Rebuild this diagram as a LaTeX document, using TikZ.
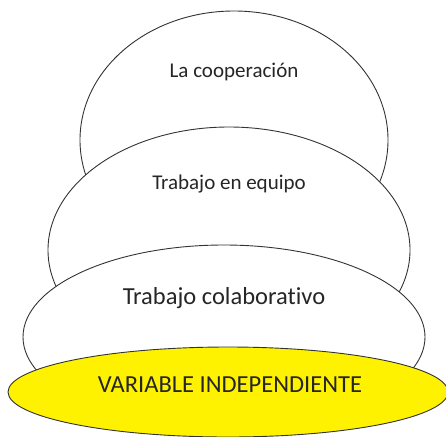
\documentclass[tikz,border=0pt]{standalone}
\usepackage{fontspec}
\setmainfont{Carlito}[Ligatures={NoCommon}]
\usetikzlibrary{positioning}

\begin{document}
\begin{tikzpicture}[x=1pt,y=-1pt,
  layer/.style={draw=black!80, line width=0.9pt, fill=white},
  base/.style={layer, fill=yellow},
  caption/.style={text=black!85, inner sep=0pt},
  ]
  \useasboundingbox (0,0) rectangle (446,436);
  \coordinate (C1) at (234,140);
  \coordinate (C2) at (229,250);
  \coordinate (C3) at (224,337);
  \coordinate (C4) at (228,392);
  \draw[layer] (C1) ellipse [x radius=154, y radius=129];
  \draw[layer] (C2) ellipse [x radius=181, y radius=123];
  \draw[layer] (C3) ellipse [x radius=201, y radius=92];
  \draw[base] (C4) ellipse [x radius=220, y radius=45];
  \node[caption, font=\fontsize{21}{24}\selectfont] (coop) at (234,72) {La cooperación};
  \node[caption, font=\fontsize{21}{24}\selectfont] (equipo) at (229,184) {Trabajo en equipo};
  \node[caption, font=\fontsize{24.5}{28}\selectfont] (colab) at (224,298) {Trabajo colaborativo};
  \node[caption, font=\fontsize{24.5}{28}\selectfont] (indep) at (230,385) {VARIABLE INDEPENDIENTE};
\end{tikzpicture}
\end{document}
